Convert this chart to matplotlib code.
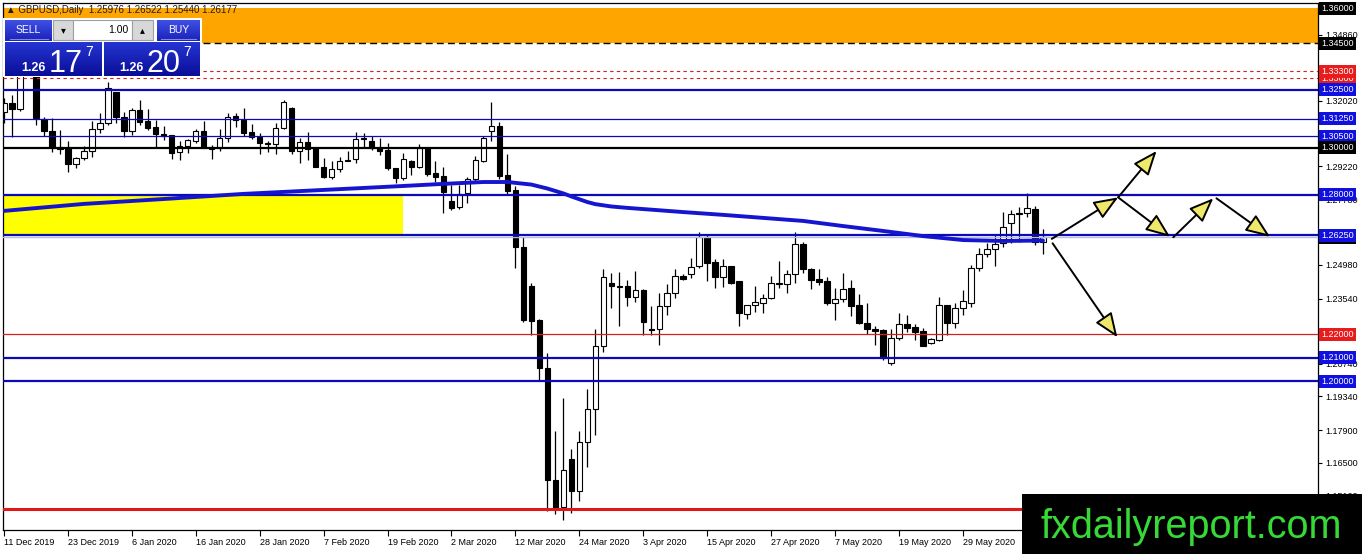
import numpy as np
import matplotlib
matplotlib.use("Agg")
import matplotlib.pyplot as plt
from matplotlib.patches import Rectangle
from matplotlib.transforms import blended_transform_factory
from matplotlib.colors import to_rgb

plt.rcParams['font.family'] = ['Liberation Sans', 'DejaVu Sans']

# GBPUSD daily candles, 11 Dec 2019 .. mid Jun 2020
opens = [1.3154, 1.3193, 1.3167, 1.3440, 1.3335, 1.3123, 1.3073, 1.3003, 1.2999, 1.2930,
         1.2956, 1.2987, 1.3080, 1.3106, 1.3239, 1.3132, 1.3074, 1.3163, 1.3116, 1.3089,
         1.3059, 1.3054, 1.2982, 1.3010, 1.3031, 1.3073, 1.2994, 1.2999, 1.3042, 1.3137,
         1.3120, 1.3067, 1.3049, 1.3023, 1.3016, 1.3087, 1.3170, 1.2988, 1.3024, 1.2999,
         1.2920, 1.2877, 1.2909, 1.2946, 1.2951, 1.3044, 1.3030, 1.2999, 1.2991, 1.2914,
         1.2873, 1.2942, 1.2920, 1.2999, 1.2894, 1.2880, 1.2773, 1.2746, 1.2806, 1.2866,
         1.2946, 1.3074, 1.3094, 1.2884, 1.2820, 1.2574, 1.2408, 1.2262, 1.2055, 1.1576,
         1.1459, 1.1664, 1.1530, 1.1737, 1.1879, 1.2152, 1.2422, 1.2406, 1.2408, 1.2362,
         1.2391, 1.2225, 1.2222, 1.2322, 1.2377, 1.2452, 1.2458, 1.2495, 1.2619, 1.2509,
         1.2448, 1.2494, 1.2429, 1.2288, 1.2325, 1.2334, 1.2355, 1.2422, 1.2415, 1.2458,
         1.2587, 1.2480, 1.2438, 1.2429, 1.2334, 1.2351, 1.2398, 1.2326, 1.2248, 1.2222,
         1.2219, 1.2079, 1.2184, 1.2244, 1.2231, 1.2215, 1.2165, 1.2176, 1.2326, 1.2251,
         1.2312, 1.2336, 1.2484, 1.2545, 1.2565, 1.2591, 1.2677, 1.2723, 1.2720, 1.2737,
         1.25976]
highs = [1.3214, 1.3227, 1.3500, 1.3514, 1.3390, 1.3132, 1.3129, 1.3077, 1.3030, 1.2963,
         1.3009, 1.3117, 1.3149, 1.3285, 1.3242, 1.3156, 1.3170, 1.3206, 1.3166, 1.3120,
         1.3094, 1.3054, 1.3030, 1.3040, 1.3080, 1.3116, 1.3013, 1.3080, 1.3151, 1.3149,
         1.3170, 1.3102, 1.3066, 1.3030, 1.3109, 1.3206, 1.3177, 1.3042, 1.3067, 1.2999,
         1.2956, 1.2944, 1.2963, 1.2988, 1.3070, 1.3063, 1.3051, 1.3042, 1.3020, 1.2914,
         1.2977, 1.2949, 1.3017, 1.3000, 1.2944, 1.2917, 1.2841, 1.2841, 1.2874, 1.2966,
         1.3051, 1.3199, 1.3110, 1.2974, 1.2837, 1.2620, 1.2420, 1.2265, 1.2122, 1.1787,
         1.1926, 1.1707, 1.1787, 1.1965, 1.2222, 1.2480, 1.2465, 1.2469, 1.2434, 1.2472,
         1.2394, 1.2322, 1.2377, 1.2415, 1.2480, 1.2459, 1.2529, 1.2641, 1.2627, 1.2522,
         1.2522, 1.2494, 1.2429, 1.2327, 1.2408, 1.2374, 1.2451, 1.2515, 1.2477, 1.2641,
         1.2598, 1.2487, 1.2480, 1.2448, 1.2398, 1.2465, 1.2434, 1.2372, 1.2334, 1.2236,
         1.2222, 1.2222, 1.2291, 1.2284, 1.2244, 1.2227, 1.2184, 1.2359, 1.2326, 1.2336,
         1.2391, 1.2498, 1.2570, 1.2594, 1.2631, 1.2727, 1.2734, 1.2748, 1.2808, 1.2751,
         1.26522]
lows = [1.3107, 1.3048, 1.3160, 1.3320, 1.3099, 1.3051, 1.2984, 1.2974, 1.2898, 1.2916,
        1.2949, 1.2963, 1.3063, 1.3099, 1.3106, 1.3048, 1.3056, 1.3099, 1.3078, 1.3003,
        1.3034, 1.2953, 1.2949, 1.2980, 1.3020, 1.3001, 1.2953, 1.2988, 1.3027, 1.3091,
        1.3051, 1.3037, 1.2974, 1.2984, 1.2974, 1.3080, 1.2974, 1.2937, 1.2949, 1.2918,
        1.2870, 1.2866, 1.2895, 1.2942, 1.2937, 1.3006, 1.2991, 1.2970, 1.2905, 1.2851,
        1.2863, 1.2884, 1.2913, 1.2880, 1.2855, 1.2720, 1.2734, 1.2737, 1.2765, 1.2855,
        1.2941, 1.3031, 1.2866, 1.2803, 1.2484, 1.2252, 1.2198, 1.2002, 1.1444, 1.1430,
        1.1404, 1.1435, 1.1487, 1.1630, 1.1769, 1.2126, 1.2312, 1.2236, 1.2322, 1.2341,
        1.2198, 1.2198, 1.2155, 1.2284, 1.2355, 1.2434, 1.2441, 1.2484, 1.2430, 1.2401,
        1.2405, 1.2417, 1.2236, 1.2265, 1.2298, 1.2291, 1.2351, 1.2398, 1.2379, 1.2422,
        1.2462, 1.2394, 1.2412, 1.2326, 1.2262, 1.2341, 1.2277, 1.2245, 1.2202, 1.2155,
        1.2091, 1.2069, 1.2176, 1.2212, 1.2176, 1.2152, 1.2158, 1.2173, 1.2198, 1.2227,
        1.2284, 1.2317, 1.2473, 1.2534, 1.2494, 1.2576, 1.2591, 1.2598, 1.2703, 1.2584,
        1.25440]
closes = [1.3193, 1.3167, 1.3440, 1.3335, 1.3127, 1.3073, 1.3003, 1.2994, 1.2930, 1.2956,
          1.2987, 1.3080, 1.3106, 1.3259, 1.3132, 1.3074, 1.3163, 1.3113, 1.3087, 1.3059,
          1.3051, 1.2980, 1.3010, 1.3034, 1.3073, 1.3001, 1.3003, 1.3042, 1.3132, 1.3120,
          1.3066, 1.3046, 1.3020, 1.3017, 1.3087, 1.3196, 1.2988, 1.3024, 1.2994, 1.2920,
          1.2874, 1.2909, 1.2942, 1.2950, 1.3037, 1.3037, 1.3001, 1.2988, 1.2916, 1.2873,
          1.2951, 1.2920, 1.2999, 1.2887, 1.2877, 1.2810, 1.2744, 1.2803, 1.2866, 1.2949,
          1.3042, 1.3094, 1.2880, 1.2817, 1.2574, 1.2262, 1.2259, 1.2055, 1.1576, 1.1457,
          1.1619, 1.1530, 1.1737, 1.1879, 1.2152, 1.2445, 1.2409, 1.2402, 1.2362, 1.2391,
          1.2255, 1.2219, 1.2322, 1.2377, 1.2452, 1.2438, 1.2491, 1.2619, 1.2507, 1.2448,
          1.2494, 1.2420, 1.2291, 1.2327, 1.2341, 1.2355, 1.2420, 1.2415, 1.2458, 1.2587,
          1.2480, 1.2434, 1.2426, 1.2334, 1.2351, 1.2395, 1.2324, 1.2248, 1.2222, 1.2216,
          1.2098, 1.2184, 1.2244, 1.2227, 1.2212, 1.2152, 1.2179, 1.2326, 1.2251, 1.2312,
          1.2344, 1.2484, 1.2545, 1.2567, 1.2587, 1.2660, 1.2716, 1.2716, 1.2741, 1.2598,
          1.26177]

# moving average (thick blue curve), read at a few bars
ma_bars = [0, 10, 20, 30, 40, 50, 55, 60, 63, 66, 68, 70, 71, 73, 74, 76, 78, 85, 90, 95,
           100, 105, 110, 115, 120, 125, 130]
ma_vals = [1.2730, 1.2760, 1.2781, 1.2803, 1.2820, 1.2837, 1.2846, 1.2854, 1.2854, 1.2843,
           1.2826, 1.2805, 1.2792, 1.2768, 1.2759, 1.2749, 1.2743, 1.2725, 1.2713, 1.2700,
           1.2687, 1.2665, 1.2644, 1.2622, 1.2605, 1.2601, 1.2603]

date_labels = ["11 Dec 2019", "23 Dec 2019", "6 Jan 2020", "16 Jan 2020", "28 Jan 2020",
               "7 Feb 2020", "19 Feb 2020", "2 Mar 2020", "12 Mar 2020", "24 Mar 2020",
               "3 Apr 2020", "15 Apr 2020", "27 Apr 2020", "7 May 2020", "19 May 2020",
               "29 May 2020"]
date_bars = [0, 8, 16, 24, 32, 40, 48, 56, 64, 72, 80, 88, 96, 104, 112, 120]

price_ticks = [1.34860, 1.32020, 1.29220, 1.27780, 1.24980, 1.23540, 1.20740,
               1.19340, 1.17900, 1.16500, 1.15100]

# horizontal levels: price, colour, width, style
levels = [(1.3450, 'black', 1.0, (0, (5, 3))),
          (1.3330, '#d42020', 0.8, (0, (3, 3))),
          (1.3300, '#d42020', 0.8, (0, (3, 3))),
          (1.3250, '#0a0ab8', 1.6, '-'),
          (1.3125, '#0a0ab8', 0.9, '-'),
          (1.3050, '#0a0ab8', 0.9, '-'),
          (1.3000, 'black', 1.6, '-'),
          (1.2800, '#0a0ab8', 1.6, '-'),
          (1.2625, '#0a0ab8', 1.6, '-'),
          (1.2200, '#d42020', 0.9, '-'),
          (1.2100, '#0a0ab8', 1.6, '-'),
          (1.2000, '#0a0ab8', 1.6, '-'),
          (1.1450, '#e01818', 2.2, '-')]

# right-hand price boxes
boxes = [(1.36000, 'black'), (1.34500, 'black'), (1.33000, '#e81c1c'), (1.33300, '#e81c1c'),
         (1.32500, '#1010e0'), (1.31250, '#1010e0'), (1.30500, '#1010e0'), (1.30000, 'black'),
         (1.28000, '#1010e0'), (1.26177, 'black'), (1.26250, '#1010e0'), (1.22000, '#e81c1c'),
         (1.21000, '#1010e0'), (1.20000, '#1010e0')]

# scenario arrows: (bar0, price0, bar1, price1)
arrows = [(131.1, 1.2610, 139.4, 1.2788),
          (139.4, 1.2788, 144.2, 1.2987),
          (139.4, 1.2788, 145.9, 1.2619),
          (146.3, 1.2617, 151.3, 1.2784),
          (151.7, 1.2784, 158.4, 1.2619),
          (131.2, 1.2591, 139.3, 1.2188)]

yellow_zone = (-1, 49.9, 1.2625, 1.2800)
orange_zone = (1.3450, 1.3600)

W, H = 1362, 554
fig = plt.figure(figsize=(W / 100, H / 100), dpi=100)
fig.patch.set_facecolor('white')
ax = fig.add_axes([3 / W, 24 / H, 1315 / W, 527 / H])
ax.set_xlim(-0.1, 164.4)
ax.set_ylim(1.1361, 1.3622)

ax.axhspan(orange_zone[0], orange_zone[1], color='#ffa500', zorder=0.5, lw=0)
ax.fill_between([yellow_zone[0], yellow_zone[1]], yellow_zone[2], yellow_zone[3],
                color='#ffff00', zorder=0.5, lw=0)

for p, c, lw, ls in levels:
    ax.axhline(p, color=c, lw=lw, ls=ls, zorder=3)
ax.axhline(closes[-1], color='#b8bde8', lw=1.0, zorder=2.9)

x = np.arange(len(opens))
o = np.array(opens)
c = np.array(closes)
up = c >= o
ax.vlines(x, lows, highs, color='black', lw=0.9, zorder=2)
bottom = np.minimum(o, c)
height = np.maximum(np.abs(c - o), 0.00009)
ax.bar(x[up], height[up], bottom=bottom[up], width=0.7, color='white',
       edgecolor='black', linewidth=0.8, zorder=2.2)
ax.bar(x[~up], height[~up], bottom=bottom[~up], width=0.7, color='black',
       edgecolor='black', linewidth=0.8, zorder=2.2)

ax.plot(ma_bars, ma_vals, color='#1515d0', lw=2.8, zorder=3.5, solid_capstyle='round')

for b0, p0, b1, p1 in arrows:
    ax.annotate('', xy=(b1, p1), xytext=(b0, p0), zorder=4,
                arrowprops=dict(arrowstyle='-|>,head_length=0.75,head_width=0.3',
                                mutation_scale=20, fc='#f0e86a', ec='black', lw=1.4,
                                shrinkA=0, shrinkB=0))

ax.yaxis.tick_right()
ax.set_yticks(price_ticks)
ax.set_yticklabels(['%.5f' % v for v in price_ticks])
ax.tick_params(axis='y', length=3, width=0.8, pad=2, labelsize=6.5, colors='black')
ax.set_xticks(date_bars)
ax.set_xticklabels(date_labels)
ax.tick_params(axis='x', length=4, width=0.8, pad=2, labelsize=6.5)
for lbl in ax.get_xticklabels():
    lbl.set_ha('left')
for sp in ax.spines.values():
    sp.set_color('black')
    sp.set_linewidth(0.9)

tr = blended_transform_factory(ax.transAxes, ax.transData)
for p, col in boxes:
    ax.text(1.0025, p, '%.5f' % p, transform=tr, ha='left', va='center', fontsize=6.5,
            color='white', zorder=6, clip_on=False,
            bbox=dict(boxstyle='square,pad=0.22', fc=col, ec='none'))

# overlay in pixel coordinates for the trade panel, title and watermark
ov = fig.add_axes([0, 0, 1, 1], zorder=10)
ov.patch.set_alpha(0)
ov.axis('off')


def grad(x0, y0, x1, y1, top, bot):
    t = np.linspace(0, 1, 32)[:, None, None]
    img = (1 - t) * np.array(to_rgb(top)) + t * np.array(to_rgb(bot))
    img = np.repeat(img, 2, axis=1)
    ov.imshow(img, extent=(x0, x1, y1, y0), aspect='auto', origin='upper',
              interpolation='bilinear', zorder=2)


ov.text(6, 10, '\u25b2 GBPUSD,Daily  1.25976 1.26522 1.25440 1.26177', fontsize=7,
        va='center', ha='left', color='#202020', family=['Liberation Sans', 'DejaVu Sans'])
ov.add_patch(Rectangle((3, 18), 199, 59, fc='white', ec='none', zorder=1))
grad(5, 20, 52, 41, '#4050e6', '#1a22b8')
grad(157, 20, 200, 41, '#4050e6', '#1a22b8')
ov.plot([10, 48], [39, 39], color='#7f88e8', lw=0.8, zorder=3)
ov.plot([161, 196], [39, 39], color='#7f88e8', lw=0.8, zorder=3)
ov.add_patch(Rectangle((53, 20), 20, 20, fc='#d8d8d8', ec='#a0a0a0', lw=0.8, zorder=3))
ov.add_patch(Rectangle((73, 20), 59, 20, fc='white', ec='#a0a0a0', lw=0.8, zorder=3))
ov.add_patch(Rectangle((132, 20), 21, 20, fc='#d8d8d8', ec='#a0a0a0', lw=0.8, zorder=3))
ov.text(28.5, 30, 'SELL', color='white', fontsize=7.5, ha='center', va='center', zorder=4)
ov.text(178.5, 30, 'BUY', color='white', fontsize=7.5, ha='center', va='center', zorder=4)
ov.text(63, 30, '\u25be', color='black', fontsize=7, ha='center', va='center', zorder=4,
        family='DejaVu Sans')
ov.text(142.5, 30, '\u25b4', color='black', fontsize=7, ha='center', va='center', zorder=4,
        family='DejaVu Sans')
ov.text(128, 30, '1.00', color='black', fontsize=7.5, ha='right', va='center', zorder=4)
grad(5, 42, 102, 76, '#2535d2', '#0a0e98')
grad(104, 42, 200, 76, '#2535d2', '#0a0e98')
for x0, big in [(21, '17'), (119, '20')]:
    ov.text(x0, 71, '1.26', color='white', fontsize=9, fontweight='bold', ha='left',
            va='baseline', zorder=4)
    ov.text(x0 + 28, 72, big, color='white', fontsize=22, ha='left', va='baseline', zorder=4)
    ov.text(x0 + 64, 56, '7', color='white', fontsize=10, ha='left', va='baseline', zorder=4)

ov.add_patch(Rectangle((1022, 494), 340, 60, fc='black', ec='none', zorder=5))
ov.text(1191, 538, 'fxdailyreport.com', color='#36d936', fontsize=28.5, ha='center',
        va='baseline', zorder=6, family='Liberation Sans')

ov.set_xlim(0, W)
ov.set_ylim(H, 0)

fig.savefig('out.png', dpi=100)
